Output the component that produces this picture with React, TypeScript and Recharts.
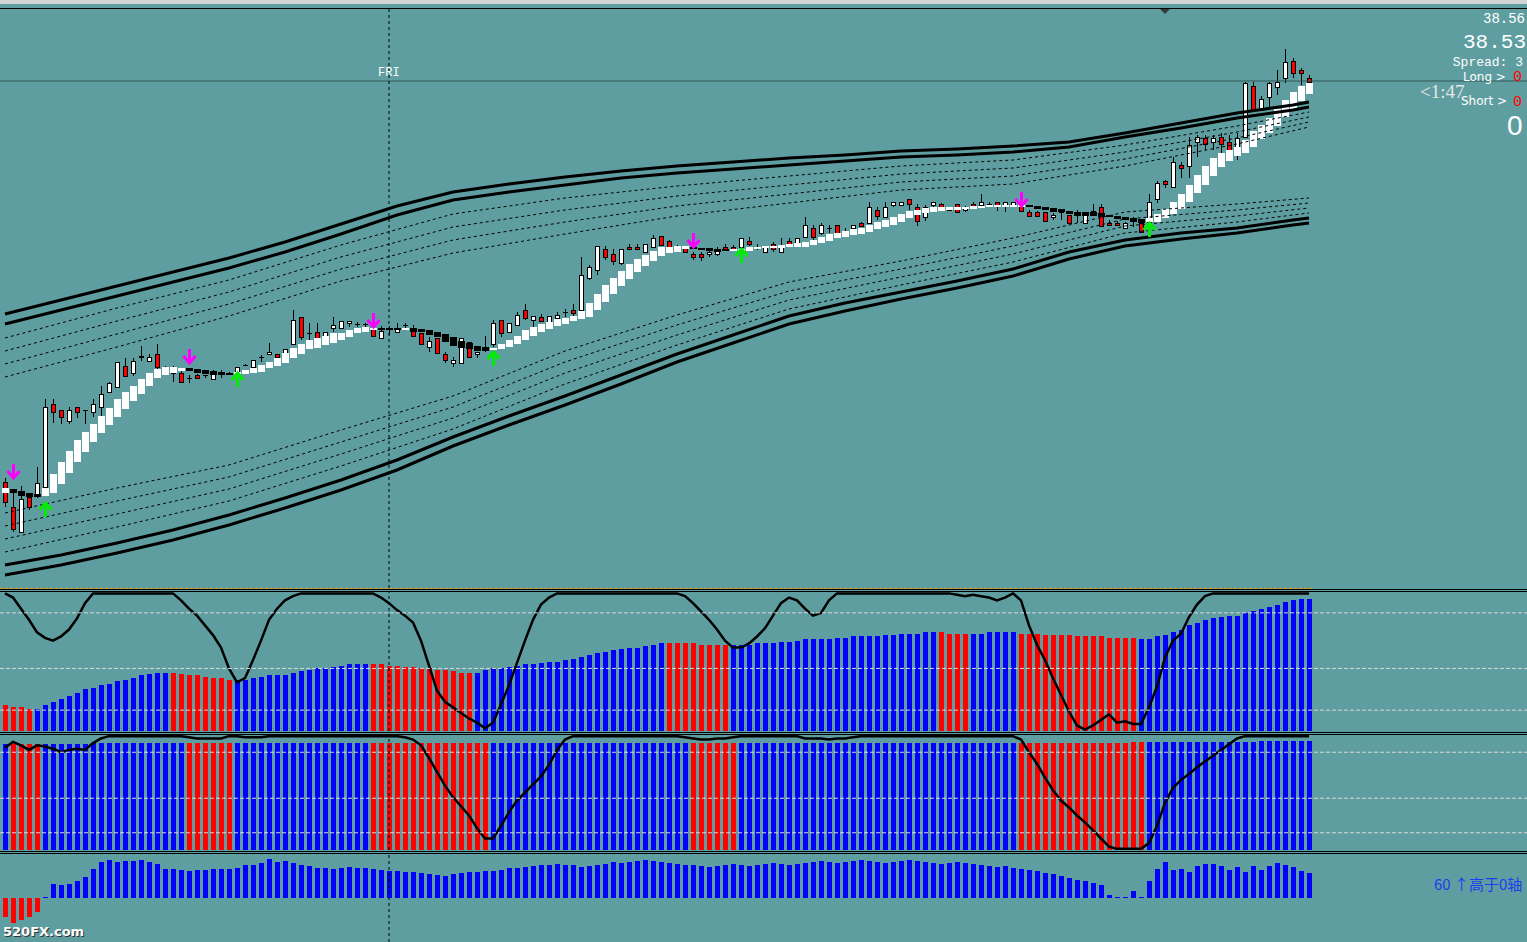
import React from 'react';
import { Bar, ComposedChart, Line, ReferenceLine, Scatter, XAxis, YAxis } from 'recharts';

const W = 1527;
const X_DOMAIN: [number, number] = [-0.625, 190.25];
const ZERO = { top: 0, right: 0, bottom: 0, left: 0 };
const BG = '#5f9ea0';

// ---- price candles (one per bar) ----
const open = [
  33.74, 33.49, 33.24, 33.59, 33.6, 33.69, 34.52, 34.46, 34.35, 34.49,
  34.46, 34.44, 34.49, 34.64, 34.69, 34.9, 34.83, 34.99, 34.95, 35.02,
  34.88, 34.83, 34.83, 34.78, 34.81, 34.81, 34.77, 34.83, 34.83, 34.83,
  34.91, 34.89, 34.99, 35.02, 35.02, 35.02, 35.12, 35.39, 35.23, 35.24,
  35.17, 35.28, 35.28, 35.33, 35.32, 35.32, 35.27, 35.18, 35.27, 35.24,
  35.31, 35.27, 35.23, 35.09, 35.18, 35.02, 34.93, 34.93, 35.14, 35.02,
  35.07, 35.12, 35.36, 35.24, 35.31, 35.46, 35.36, 35.39, 35.34, 35.38,
  35.44, 35.46, 35.46, 35.78, 35.86, 36.07, 36.02, 35.93, 36.09, 36.09,
  36.04, 36.09, 36.2, 36.15, 36.09, 36.08, 36.02, 36.02, 36.02, 36.02,
  36.09, 36.09, 36.09, 36.15, 36.09, 36.04, 36.12, 36.04, 36.15, 36.12,
  36.19, 36.28, 36.23, 36.28, 36.31, 36.21, 36.28, 36.33, 36.33, 36.46,
  36.39, 36.51, 36.51, 36.57, 36.49, 36.39, 36.51, 36.52, 36.46, 36.52,
  36.46, 36.52, 36.51, 36.52, 36.54, 36.51, 36.51, 36.5, 36.44, 36.44,
  36.44, 36.39, 36.44, 36.41, 36.41, 36.33, 36.41, 36.49, 36.33, 36.33,
  36.28, 36.36, 36.33, 36.34, 36.57, 36.75, 36.69, 36.91, 36.9, 37.14,
  37.18, 37.14, 37.19, 37.14, 37.06, 37.19, 37.7, 37.46, 37.59, 37.69,
  37.78, 37.95, 37.86, 37.78,
];
const high = [
  33.78, 33.63, 33.7, 33.63, 33.89, 34.57, 34.57, 34.46, 34.49, 34.49,
  34.46, 34.57, 34.7, 34.74, 34.94, 34.98, 34.98, 35.1, 35.02, 35.12,
  34.9, 34.9, 34.88, 34.81, 34.82, 34.81, 34.86, 34.86, 34.84, 34.89,
  34.92, 34.96, 35.01, 35.13, 35.02, 35.07, 35.46, 35.39, 35.33, 35.33,
  35.24, 35.39, 35.35, 35.35, 35.34, 35.33, 35.29, 35.3, 35.3, 35.33,
  35.33, 35.31, 35.23, 35.19, 35.18, 35.04, 34.99, 35.18, 35.14, 35.04,
  35.2, 35.36, 35.36, 35.33, 35.44, 35.52, 35.4, 35.42, 35.4, 35.44,
  35.47, 35.52, 35.99, 35.91, 36.1, 36.1, 36.07, 36.07, 36.12, 36.12,
  36.12, 36.21, 36.2, 36.16, 36.11, 36.1, 36.04, 36.04, 36.08, 36.09,
  36.12, 36.11, 36.18, 36.19, 36.12, 36.09, 36.14, 36.18, 36.18, 36.18,
  36.39, 36.31, 36.33, 36.31, 36.31, 36.28, 36.31, 36.34, 36.54, 36.49,
  36.54, 36.54, 36.54, 36.57, 36.52, 36.51, 36.54, 36.53, 36.47, 36.52,
  36.5, 36.54, 36.62, 36.54, 36.54, 36.54, 36.54, 36.51, 36.46, 36.45,
  36.44, 36.43, 36.47, 36.41, 36.46, 36.44, 36.52, 36.52, 36.36, 36.35,
  36.34, 36.39, 36.36, 36.62, 36.75, 36.76, 36.99, 36.94, 37.19, 37.21,
  37.21, 37.21, 37.23, 37.21, 37.23, 37.74, 37.74, 37.6, 37.74, 37.86,
  38.07, 37.98, 37.88, 37.81,
];
const low = [
  33.49, 33.24, 33.23, 33.46, 33.58, 33.69, 34.33, 34.32, 34.32, 34.38,
  34.32, 34.39, 34.39, 34.64, 34.69, 34.8, 34.8, 34.95, 34.94, 34.87,
  34.86, 34.74, 34.73, 34.73, 34.78, 34.78, 34.77, 34.78, 34.81, 34.83,
  34.9, 34.89, 34.94, 35.02, 34.99, 35.02, 35.12, 35.16, 35.13, 35.11,
  35.17, 35.24, 35.28, 35.29, 35.29, 35.29, 35.2, 35.18, 35.21, 35.23,
  35.28, 35.19, 35.12, 35.04, 35.03, 34.93, 34.89, 34.93, 34.99, 34.98,
  35.04, 35.09, 35.19, 35.24, 35.31, 35.36, 35.29, 35.35, 35.34, 35.36,
  35.39, 35.39, 35.46, 35.76, 35.81, 35.96, 35.91, 35.91, 36.06, 36.06,
  36.04, 36.08, 36.11, 36.09, 36.07, 36.04, 35.96, 35.95, 35.99, 36.0,
  36.05, 36.06, 36.08, 36.1, 36.06, 36.04, 36.04, 36.04, 36.09, 36.11,
  36.19, 36.16, 36.21, 36.23, 36.23, 36.19, 36.27, 36.3, 36.33, 36.36,
  36.39, 36.49, 36.5, 36.46, 36.3, 36.35, 36.48, 36.48, 36.45, 36.43,
  36.44, 36.49, 36.51, 36.49, 36.45, 36.44, 36.5, 36.45, 36.4, 36.4,
  36.35, 36.36, 36.36, 36.33, 36.33, 36.33, 36.41, 36.3, 36.3, 36.3,
  36.28, 36.29, 36.24, 36.34, 36.53, 36.68, 36.69, 36.78, 36.78, 36.99,
  37.06, 37.06, 37.03, 37.03, 36.96, 37.19, 37.44, 37.46, 37.49, 37.61,
  37.73, 37.78, 37.71, 37.74,
];
const close = [
  33.54, 33.27, 33.57, 33.49, 33.73, 34.49, 34.44, 34.39, 34.46, 34.44,
  34.46, 34.52, 34.62, 34.73, 34.94, 34.8, 34.95, 35.0, 34.99, 34.89,
  34.88, 34.89, 34.74, 34.78, 34.78, 34.81, 34.82, 34.83, 34.83, 34.89,
  34.91, 34.96, 34.99, 35.04, 34.99, 35.07, 35.36, 35.19, 35.23, 35.14,
  35.24, 35.31, 35.35, 35.35, 35.32, 35.32, 35.2, 35.25, 35.27, 35.27,
  35.31, 35.2, 35.12, 35.15, 35.03, 34.96, 34.96, 35.18, 34.99, 35.04,
  35.09, 35.33, 35.23, 35.33, 35.41, 35.38, 35.4, 35.35, 35.4, 35.41,
  35.44, 35.43, 35.81, 35.89, 36.1, 35.99, 35.95, 36.07, 36.07, 36.07,
  36.12, 36.18, 36.11, 36.09, 36.09, 36.04, 35.99, 35.99, 36.04, 36.05,
  36.06, 36.06, 36.18, 36.12, 36.09, 36.09, 36.07, 36.11, 36.1, 36.18,
  36.31, 36.19, 36.31, 36.28, 36.23, 36.24, 36.31, 36.3, 36.49, 36.4,
  36.49, 36.54, 36.54, 36.52, 36.35, 36.49, 36.54, 36.49, 36.46, 36.44,
  36.49, 36.49, 36.54, 36.52, 36.51, 36.54, 36.54, 36.45, 36.4, 36.4,
  36.35, 36.41, 36.44, 36.33, 36.41, 36.41, 36.45, 36.3, 36.31, 36.31,
  36.33, 36.36, 36.24, 36.54, 36.73, 36.72, 36.94, 36.88, 37.11, 37.19,
  37.12, 37.18, 37.12, 37.06, 37.18, 37.73, 37.46, 37.57, 37.73, 37.74,
  37.94, 37.83, 37.83, 37.74,
];

// ---- smoothed (heiken-ashi style) blocks ----
const haOpen = [
  33.63, 33.67, 33.65, 33.63, 33.62, 33.6, 33.63, 33.72, 33.83, 33.94,
  34.04, 34.14, 34.23, 34.31, 34.39, 34.47, 34.55, 34.62, 34.7, 34.78,
  34.81, 34.83, 34.85, 34.88, 34.87, 34.86, 34.85, 34.84, 34.83, 34.82,
  34.82, 34.83, 34.84, 34.88, 34.9, 34.93, 34.98, 35.02, 35.07, 35.08,
  35.11, 35.13, 35.16, 35.19, 35.23, 35.24, 35.27, 35.28, 35.28, 35.28,
  35.26, 35.28, 35.27, 35.26, 35.24, 35.22, 35.19, 35.15, 35.13, 35.1,
  35.09, 35.06, 35.07, 35.09, 35.12, 35.16, 35.2, 35.24, 35.27, 35.3,
  35.32, 35.35, 35.37, 35.39, 35.46, 35.54, 35.62, 35.7, 35.77, 35.84,
  35.9, 35.95, 36.0, 36.03, 36.04, 36.07, 36.09, 36.08, 36.08, 36.07,
  36.07, 36.05, 36.05, 36.05, 36.07, 36.08, 36.08, 36.08, 36.09, 36.09,
  36.09, 36.11, 36.13, 36.15, 36.18, 36.19, 36.21, 36.22, 36.24, 36.27,
  36.29, 36.31, 36.34, 36.38, 36.41, 36.43, 36.44, 36.45, 36.46, 36.46,
  36.47, 36.47, 36.48, 36.49, 36.49, 36.49, 36.49, 36.49, 36.51, 36.5,
  36.49, 36.48, 36.47, 36.45, 36.44, 36.44, 36.44, 36.43, 36.41, 36.4,
  36.39, 36.38, 36.37, 36.34, 36.34, 36.38, 36.42, 36.47, 36.54, 36.63,
  36.71, 36.8, 36.89, 36.95, 37.0, 37.03, 37.09, 37.17, 37.23, 37.3,
  37.39, 37.47, 37.55, 37.62,
];
const haClose = [
  33.68, 33.63, 33.6, 33.59, 33.59, 33.68, 33.82, 33.94, 34.05, 34.16,
  34.24, 34.32, 34.4, 34.48, 34.57, 34.64, 34.7, 34.77, 34.83, 34.87,
  34.89, 34.89, 34.88, 34.85, 34.83, 34.82, 34.81, 34.81, 34.81, 34.84,
  34.86, 34.88, 34.91, 34.94, 34.98, 35.03, 35.08, 35.12, 35.16, 35.18,
  35.2, 35.23, 35.23, 35.26, 35.28, 35.29, 35.28, 35.26, 35.26, 35.26,
  35.28, 35.24, 35.24, 35.21, 35.19, 35.14, 35.1, 35.08, 35.07, 35.05,
  35.05, 35.08, 35.12, 35.16, 35.2, 35.26, 35.29, 35.32, 35.34, 35.37,
  35.38, 35.4, 35.45, 35.53, 35.62, 35.71, 35.78, 35.85, 35.92, 35.97,
  36.01, 36.05, 36.09, 36.09, 36.1, 36.1, 36.07, 36.06, 36.05, 36.04,
  36.05, 36.07, 36.07, 36.09, 36.09, 36.1, 36.1, 36.11, 36.12, 36.13,
  36.14, 36.16, 36.19, 36.22, 36.23, 36.25, 36.27, 36.28, 36.31, 36.34,
  36.36, 36.39, 36.42, 36.45, 36.46, 36.48, 36.49, 36.49, 36.49, 36.49,
  36.49, 36.5, 36.5, 36.51, 36.51, 36.51, 36.51, 36.51, 36.49, 36.47,
  36.46, 36.44, 36.44, 36.42, 36.4, 36.4, 36.4, 36.39, 36.39, 36.37,
  36.36, 36.34, 36.33, 36.38, 36.42, 36.47, 36.54, 36.62, 36.71, 36.81,
  36.9, 36.98, 37.03, 37.06, 37.09, 37.16, 37.25, 37.31, 37.38, 37.47,
  37.56, 37.64, 37.7, 37.73,
];

// ---- envelope bands ----
// thick lines read every 7 bars, dotted lines every 14 bars
const thickAt = [0, 7, 14, 21, 28, 35, 42, 49, 56, 63, 70, 77, 84, 91, 98, 105, 112, 119, 126, 133, 140, 147, 154, 161, 163];
const upperOuter = [
  35.42, 35.56, 35.7, 35.84, 35.98, 36.14, 36.32, 36.5, 36.64, 36.72, 36.79, 36.85, 36.9,
  36.94, 36.98, 37.01, 37.05, 37.07, 37.1, 37.14, 37.23, 37.33, 37.43, 37.51, 37.54,
];
const upperInner = [
  35.32, 35.46, 35.6, 35.74, 35.88, 36.04, 36.22, 36.41, 36.56, 36.64, 36.71, 36.78, 36.83,
  36.87, 36.91, 36.95, 36.99, 37.01, 37.04, 37.09, 37.19, 37.28, 37.38, 37.46, 37.49,
];
const lowerInner = [
  32.91, 33.01, 33.13, 33.26, 33.41, 33.58, 33.76, 33.96, 34.19, 34.4, 34.6, 34.81, 35.02,
  35.21, 35.4, 35.53, 35.64, 35.75, 35.87, 36.04, 36.16, 36.23, 36.28, 36.36, 36.38,
];
const lowerOuter = [
  32.81, 32.91, 33.03, 33.16, 33.31, 33.48, 33.66, 33.86, 34.1, 34.31, 34.51, 34.72, 34.94,
  35.13, 35.32, 35.45, 35.57, 35.68, 35.8, 35.97, 36.1, 36.17, 36.23, 36.31, 36.33,
];
const dotAt = [0, 14, 28, 42, 56, 70, 84, 98, 112, 126, 140, 154, 163];
const upperDot1 = [35.18, 35.48, 35.76, 36.11, 36.42, 36.58, 36.7, 36.8, 36.9, 36.96, 37.11, 37.3, 37.44];
const upperDot2 = [35.05, 35.35, 35.64, 35.99, 36.29, 36.46, 36.6, 36.71, 36.82, 36.88, 37.04, 37.24, 37.39];
const upperDot3 = [34.92, 35.22, 35.52, 35.87, 36.16, 36.34, 36.5, 36.62, 36.74, 36.8, 36.97, 37.18, 37.34];
const upperDot4 = [34.79, 35.09, 35.4, 35.75, 36.03, 36.22, 36.4, 36.53, 36.66, 36.72, 36.9, 37.12, 37.29];
const lowerDot4 = [33.43, 33.68, 33.91, 34.26, 34.6, 35.05, 35.41, 35.74, 35.95, 36.18, 36.44, 36.52, 36.58];
const lowerDot3 = [33.3, 33.55, 33.79, 34.14, 34.49, 34.94, 35.31, 35.65, 35.87, 36.1, 36.37, 36.46, 36.53];
const lowerDot2 = [33.17, 33.42, 33.67, 34.02, 34.38, 34.83, 35.21, 35.56, 35.79, 36.02, 36.3, 36.4, 36.48];
const lowerDot1 = [33.04, 33.29, 33.55, 33.9, 34.27, 34.72, 35.11, 35.47, 35.71, 35.94, 36.23, 36.34, 36.43];

// ---- signal arrows ----
const sellAt = [1, 23, 46, 86, 127];
const sellPrice = [33.84, 34.99, 35.35, 36.15, 36.56];
const buyAt = [5, 29, 61, 92, 143];
const buyPrice = [33.47, 34.77, 34.98, 36.01, 36.27];

const bidPrice = 37.75;
const separatorBar = 48;

// ---- oscillator 1 (0..100) ----
const trendBars = [
  19, 17, 17, 16, 16, 19, 21, 23, 25, 27, 30, 31, 33, 34, 36, 37, 38, 40, 41, 42,
  42, 42, 41, 40, 40, 39, 38, 38, 37, 37, 37, 38, 39, 40, 40, 40, 42, 43, 44, 45,
  45, 46, 47, 48, 48, 48, 48, 48, 47, 47, 46, 46, 45, 45, 44, 44, 43, 42, 42, 42,
  44, 45, 45, 46, 47, 48, 48, 49, 50, 50, 51, 52, 53, 55, 56, 57, 58, 59, 60, 60,
  61, 62, 63, 63, 63, 63, 63, 62, 62, 62, 62, 62, 62, 62, 63, 63, 63, 64, 64, 65,
  66, 66, 66, 66, 67, 67, 68, 68, 68, 68, 69, 69, 70, 70, 70, 71, 71, 71, 70, 70,
  70, 70, 70, 71, 71, 71, 71, 70, 70, 70, 69, 69, 69, 69, 68, 68, 68, 68, 67, 67,
  67, 67, 66, 66, 68, 69, 71, 73, 76, 78, 80, 81, 82, 83, 83, 85, 86, 88, 89, 91,
  93, 94, 95, 95,
];
const trendColorRuns: [number, string][] = [
  [4, 'r'], [17, 'b'], [8, 'r'], [17, 'b'], [13, 'r'], [24, 'b'],
  [8, 'r'], [26, 'b'], [4, 'r'], [6, 'b'], [15, 'r'], [22, 'b'],
];
const trendLine = [
  99, 96, 88, 80, 71, 67, 65, 68, 73, 81, 92, 99, 99, 99, 99, 99, 99, 99, 99, 99,
  99, 99, 94, 88, 83, 76, 69, 60, 45, 35, 38, 51, 65, 80, 88, 94, 97, 99, 99, 99,
  99, 99, 99, 99, 99, 99, 99, 96, 92, 87, 83, 78, 65, 47, 29, 21, 17, 13, 9, 6,
  2, 6, 19, 33, 49, 65, 80, 91, 96, 99, 99, 99, 99, 99, 99, 99, 99, 99, 99, 99,
  99, 99, 99, 99, 99, 97, 92, 86, 80, 73, 65, 60, 60, 63, 68, 74, 83, 92, 96, 94,
  88, 83, 85, 94, 99, 99, 99, 99, 99, 99, 99, 99, 99, 99, 99, 99, 99, 99, 99, 98,
  97, 98, 97, 96, 94, 96, 99, 94, 76, 62, 51, 38, 26, 14, 4, 1, 4, 8, 12, 6,
  7, 5, 5, 17, 32, 53, 65, 70, 82, 91, 97, 99, 99, 99, 99, 99, 99, 99, 99, 99,
  99, 99, 99, 99,
];

// ---- oscillator 2 (0..100) ----
const powerBars = [
  92, 92, 92, 92, 92, 92, 92, 92, 92, 92, 92, 93, 93, 93, 93, 93, 93, 93, 93, 93,
  93, 93, 93, 93, 93, 93, 93, 93, 93, 93, 93, 93, 93, 93, 93, 93, 93, 93, 93, 93,
  93, 93, 93, 93, 93, 93, 93, 93, 93, 93, 93, 93, 93, 93, 93, 93, 93, 93, 93, 93,
  93, 93, 93, 93, 93, 93, 93, 93, 93, 93, 93, 93, 93, 93, 93, 93, 93, 93, 93, 93,
  93, 93, 93, 93, 93, 93, 93, 93, 93, 93, 93, 93, 93, 93, 93, 93, 93, 93, 93, 93,
  93, 93, 93, 93, 93, 93, 93, 93, 93, 93, 93, 93, 93, 93, 93, 93, 93, 93, 93, 93,
  93, 93, 93, 93, 93, 93, 93, 93, 93, 93, 93, 93, 93, 93, 93, 93, 93, 93, 93, 93,
  93, 94, 94, 94, 94, 94, 94, 94, 94, 94, 94, 94, 94, 94, 94, 94, 94, 95, 95, 95,
  95, 95, 95, 95,
];
const powerColorRuns: [number, string][] = [
  [1, 'b'], [4, 'r'], [18, 'b'], [6, 'r'], [17, 'b'], [15, 'r'],
  [25, 'b'], [6, 'r'], [35, 'b'], [16, 'r'], [21, 'b'],
];
const powerLine = [
  89, 94, 91, 87, 91, 90, 88, 85, 87, 88, 87, 93, 97, 99, 99, 99, 99, 99, 99, 99,
  99, 99, 99, 98, 97, 97, 97, 97, 99, 99, 98, 98, 98, 99, 99, 99, 99, 99, 99, 99,
  99, 99, 99, 99, 99, 99, 99, 99, 99, 99, 98, 96, 91, 80, 68, 56, 46, 38, 30, 19,
  10, 10, 21, 33, 43, 50, 57, 64, 74, 87, 96, 99, 99, 99, 99, 99, 99, 99, 99, 99,
  99, 99, 99, 99, 99, 98, 97, 96, 96, 97, 97, 98, 99, 99, 99, 99, 99, 99, 99, 99,
  97, 97, 97, 96, 97, 97, 98, 99, 99, 99, 99, 99, 99, 99, 99, 99, 99, 99, 99, 99,
  99, 99, 99, 99, 99, 99, 99, 96, 85, 75, 63, 52, 43, 37, 30, 24, 17, 10, 3, 1,
  1, 1, 1, 6, 21, 41, 54, 61, 66, 72, 77, 82, 87, 92, 97, 99, 99, 99, 99, 99,
  99, 99, 99, 99,
];
const oscLevels = [85, 45, 15];

// ---- histogram around zero ----
const histogram = [
  -19, -25, -22, -19, -14, 1, 14, 13, 14, 17, 21, 29, 36, 38, 36, 37, 37, 38, 36, 34,
  29, 29, 28, 27, 28, 28, 29, 29, 29, 30, 33, 33, 35, 39, 36, 37, 35, 33, 32, 30,
  30, 29, 30, 31, 30, 30, 29, 28, 27, 27, 26, 26, 25, 24, 23, 22, 24, 25, 26, 26,
  27, 27, 28, 30, 30, 31, 32, 33, 33, 34, 33, 33, 31, 32, 33, 34, 36, 35, 36, 37,
  38, 37, 36, 35, 34, 33, 33, 32, 31, 32, 33, 34, 33, 32, 33, 34, 35, 34, 33, 34,
  35, 36, 37, 36, 35, 36, 37, 38, 37, 36, 35, 36, 37, 38, 37, 36, 35, 34, 35, 36,
  35, 34, 33, 32, 31, 32, 30, 29, 28, 27, 25, 24, 22, 20, 18, 17, 15, 13, 3, 1,
  1, 7, 1, 17, 29, 36, 28, 29, 26, 32, 34, 34, 32, 28, 31, 26, 32, 28, 32, 35,
  33, 31, 27, 25,
];

const RED = '#ff0000';
const BLUE = '#0000ff';

const expandRuns = (runs: [number, string][]) =>
  runs.flatMap(([n, c]) => Array.from({ length: n }, () => c));

const bands = [
  { key: 'uo', at: thickAt, values: upperOuter, thick: true },
  { key: 'ui', at: thickAt, values: upperInner, thick: true },
  { key: 'u1', at: dotAt, values: upperDot1, thick: false },
  { key: 'u2', at: dotAt, values: upperDot2, thick: false },
  { key: 'u3', at: dotAt, values: upperDot3, thick: false },
  { key: 'u4', at: dotAt, values: upperDot4, thick: false },
  { key: 'l4', at: dotAt, values: lowerDot4, thick: false },
  { key: 'l3', at: dotAt, values: lowerDot3, thick: false },
  { key: 'l2', at: dotAt, values: lowerDot2, thick: false },
  { key: 'l1', at: dotAt, values: lowerDot1, thick: false },
  { key: 'li', at: thickAt, values: lowerInner, thick: true },
  { key: 'lo', at: thickAt, values: lowerOuter, thick: true },
];

const priceRows = open.map((o, i) => {
  const row: Record<string, any> = {
    i,
    o,
    h: high[i],
    l: low[i],
    c: close[i],
    hao: haOpen[i],
    hac: haClose[i],
    candle: [low[i], high[i]],
    stair: [Math.min(haOpen[i], haClose[i]), Math.max(haOpen[i], haClose[i])],
  };
  return row;
});
bands.forEach((b) => {
  b.at.forEach((idx, k) => {
    priceRows[idx][b.key] = b.values[k];
  });
});

const sellPts = sellAt.map((i, k) => ({ i, v: sellPrice[k] }));
const buyPts = buyAt.map((i, k) => ({ i, v: buyPrice[k] }));

const trendColors = expandRuns(trendColorRuns);
const powerColors = expandRuns(powerColorRuns);
const trendRows = trendBars.map((v, i) => ({ i, bar: v, line: trendLine[i] }));
const powerRows = powerBars.map((v, i) => ({ i, bar: v, line: powerLine[i] }));
const histRows = histogram.map((v, i) => ({ i, bar: v }));

function Candle(props: any) {
  const { x, y, width, height, payload } = props;
  if (x == null || !payload) return null;
  const { o, h, l, c } = payload;
  const cx = Math.round(x + width / 2);
  const px = (v: number) => y + ((h - v) / (h - l || 1)) * height;
  const top = Math.round(px(Math.max(o, c)));
  const bot = Math.round(px(Math.min(o, c)));
  const up = c >= o;
  return (
    <g>
      <line x1={cx + 0.5} x2={cx + 0.5} y1={y} y2={y + height} stroke="#000" strokeWidth={1} />
      {bot - top < 1 ? (
        <line x1={cx - 2} x2={cx + 3} y1={top + 0.5} y2={top + 0.5} stroke="#000" strokeWidth={1} />
      ) : (
        <rect x={cx - 1.5} y={top + 0.5} width={4} height={bot - top} fill={up ? '#ffffff' : RED} stroke="#000" strokeWidth={1} />
      )}
    </g>
  );
}

function Stair(props: any) {
  const { x, y, width, height, payload } = props;
  if (x == null || !payload) return null;
  const cx = Math.round(x + width / 2);
  const rising = payload.hac >= payload.hao;
  return (
    <rect
      x={cx - 3}
      y={Math.round(y)}
      width={7}
      height={Math.max(2, Math.round(height))}
      fill={rising ? '#ffffff' : '#000000'}
    />
  );
}

function SellArrow(props: any) {
  const { cx, cy } = props;
  if (cx == null) return null;
  const x = Math.round(cx) + 0.5;
  return (
    <g stroke="#ff00ff" strokeWidth={3} fill="none">
      <line x1={x} x2={x} y1={cy - 8} y2={cy + 5} />
      <polyline points={`${x - 6},${cy - 1} ${x},${cy + 6} ${x + 6},${cy - 1}`} />
    </g>
  );
}

function BuyArrow(props: any) {
  const { cx, cy } = props;
  if (cx == null) return null;
  const x = Math.round(cx) + 0.5;
  return (
    <g stroke="#00ee00" strokeWidth={3} fill="none">
      <line x1={x} x2={x} y1={cy + 8} y2={cy - 5} />
      <polyline points={`${x - 6},${cy + 1} ${x},${cy - 6} ${x + 6},${cy + 1}`} />
    </g>
  );
}

function panelBar(colors: string[] | null) {
  return (props: any) => {
    const { x, y, width, height, payload } = props;
    if (x == null || !payload) return null;
    const cx = Math.round(x + width / 2);
    const top = Math.min(y, y + height);
    const h = Math.abs(height);
    const fill = colors ? (colors[payload.i] === 'r' ? RED : BLUE) : payload.bar < 0 ? RED : BLUE;
    return <rect x={cx - 2} y={Math.round(top)} width={5} height={Math.round(h)} fill={fill} />;
  };
}

const xAxis = (id: string) => (
  <XAxis xAxisId={id} type="number" dataKey="i" domain={X_DOMAIN} hide allowDataOverflow />
);

function Oscillator({ rows, colors, top, height }: { rows: any[]; colors: string[]; top: number; height: number }) {
  return (
    <div style={{ position: 'absolute', left: 0, top, width: W, height }}>
      <ComposedChart width={W} height={height} data={rows} margin={ZERO}>
        {xAxis('b')}
        {xAxis('l')}
        <YAxis domain={[0, 100]} hide allowDataOverflow />
        <Bar xAxisId="b" dataKey="bar" barSize={8} shape={panelBar(colors)} isAnimationActive={false} />
        <Line xAxisId="l" dataKey="line" stroke="#000" strokeWidth={2.5} dot={false} isAnimationActive={false} />
        {oscLevels.map((v) => (
          <ReferenceLine key={v} xAxisId="l" y={v} stroke="#d8d8d8" strokeDasharray="4 2" />
        ))}
        <ReferenceLine xAxisId="l" x={separatorBar} stroke="#000" strokeDasharray="3 3" />
      </ComposedChart>
    </div>
  );
}

const txt = (style: React.CSSProperties): React.CSSProperties => ({
  position: 'absolute',
  whiteSpace: 'nowrap',
  lineHeight: 1,
  ...style,
});

export default function App() {
  return (
    <div
      style={{
        position: 'absolute',
        left: 0,
        top: 0,
        width: W,
        height: 942,
        background: BG,
        overflow: 'hidden',
        fontFamily: '"Liberation Mono", monospace',
      }}
    >
      <div style={{ position: 'absolute', left: 0, top: 0, width: W, height: 588 }}>
        <ComposedChart width={W} height={588} data={priceRows} margin={ZERO}>
          {xAxis('c')}
          {xAxis('s')}
          {xAxis('l')}
          <YAxis domain={[32.68, 38.56]} hide allowDataOverflow />
          <ReferenceLine xAxisId="l" y={bidPrice} stroke="#2e5656" />
          <ReferenceLine xAxisId="l" x={separatorBar} stroke="#000" strokeDasharray="3 3" />
          <Bar xAxisId="c" dataKey="candle" barSize={8} shape={Candle} isAnimationActive={false} />
          {bands.map((b) => (
            <Line
              key={b.key}
              xAxisId="l"
              dataKey={b.key}
              stroke="#000"
              strokeWidth={b.thick ? 3 : 1}
              strokeDasharray={b.thick ? undefined : '3 3'}
              dot={false}
              connectNulls
              isAnimationActive={false}
            />
          ))}
          <Bar xAxisId="s" dataKey="stair" barSize={8} shape={Stair} isAnimationActive={false} />
          <Scatter xAxisId="l" data={sellPts} dataKey="v" shape={SellArrow} isAnimationActive={false} />
          <Scatter xAxisId="l" data={buyPts} dataKey="v" shape={BuyArrow} isAnimationActive={false} />
        </ComposedChart>
      </div>

      <Oscillator rows={trendRows} colors={trendColors} top={592} height={139} />
      <Oscillator rows={powerRows} colors={powerColors} top={735} height={115} />

      <div style={{ position: 'absolute', left: 0, top: 854, width: W, height: 88 }}>
        <ComposedChart width={W} height={88} data={histRows} margin={ZERO}>
          {xAxis('b')}
          {xAxis('l')}
          <YAxis domain={[-44, 44]} hide allowDataOverflow />
          <Bar xAxisId="b" dataKey="bar" barSize={8} shape={panelBar(null)} isAnimationActive={false} />
          <ReferenceLine xAxisId="l" x={separatorBar} stroke="#000" strokeDasharray="3 3" />
        </ComposedChart>
      </div>

      {/* frame and separators */}
      <div style={{ position: 'absolute', left: 0, top: 0, width: W, height: 4, background: '#d4d4d4' }} />
      <div style={{ position: 'absolute', left: 0, top: 4, width: W, height: 4, background: BG }} />
      <div style={{ position: 'absolute', left: 0, top: 8, width: W, height: 1, background: '#000' }} />
      <div
        style={{
          position: 'absolute',
          left: 1160,
          top: 9,
          width: 0,
          height: 0,
          borderLeft: '5px solid transparent',
          borderRight: '5px solid transparent',
          borderTop: '5px solid #3a3a3a',
        }}
      />
      <div style={{ position: 'absolute', left: 0, top: 588, width: 1312, height: 0, borderTop: '1px dashed #ff9900' }} />
      {[589, 591, 732, 734, 851, 853].map((t) => (
        <div key={t} style={{ position: 'absolute', left: 0, top: t, width: W, height: 1, background: '#000' }} />
      ))}

      {/* labels */}
      <div style={txt({ left: 378, top: 67, fontSize: 12, color: '#fff' })}>FRI</div>
      <div style={txt({ right: 2, top: 12, fontSize: 14, color: '#fff' })}>38.56</div>
      <div style={txt({ right: 1, top: 32, fontSize: 21, color: '#fff' })}>38.53</div>
      <div style={txt({ right: 4, top: 56, fontSize: 13, color: '#fff' })}>Spread: 3</div>
      <div style={txt({ left: 1463, top: 71, fontSize: 12, color: '#fff', fontFamily: '"DejaVu Sans", sans-serif' })}>Long &gt;</div>
      <div style={txt({ left: 1513, top: 70, fontSize: 15, color: RED })}>0</div>
      <div style={txt({ left: 1420, top: 82, fontSize: 19, color: '#e6e6e6', fontFamily: '"Liberation Serif", serif' })}>&lt;1:47</div>
      <div style={txt({ left: 1461, top: 95, fontSize: 12, color: '#fff', fontFamily: '"DejaVu Sans", sans-serif' })}>Short &gt;</div>
      <div style={txt({ left: 1513, top: 95, fontSize: 15, color: RED })}>0</div>
      <div style={txt({ left: 1507, top: 112, fontSize: 28, color: '#fff', fontFamily: '"Liberation Sans", sans-serif' })}>0</div>
      <div style={txt({ left: 1434, top: 876, fontSize: 15, color: '#1e3cf0', fontFamily: '"Noto Sans CJK SC", sans-serif' })}>
        60 ↑高于0轴
      </div>
      <div
        style={txt({
          left: 3,
          top: 925,
          fontSize: 13,
          fontWeight: 'bold',
          color: '#fff',
          fontFamily: '"DejaVu Sans", sans-serif',
          textShadow: '1px 1px 0 #333',
        })}
      >
        520FX.com
      </div>
    </div>
  );
}
